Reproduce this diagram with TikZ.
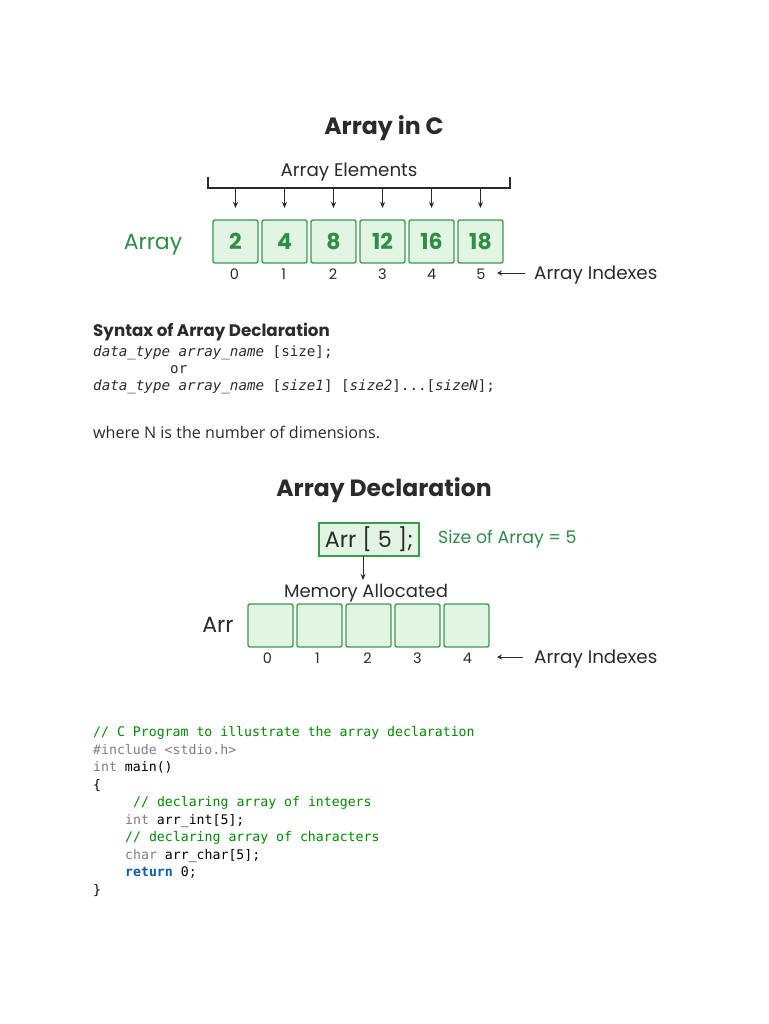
\documentclass[tikz,border=0pt]{standalone}
\usepackage{fontspec}
\setmainfont{Poppins}
\newfontfamily\pop{Poppins}
\newfontfamily\osans{Open Sans}
\newfontfamily\mono{DejaVu Sans Mono}
\usetikzlibrary{arrows.meta}
\definecolor{gtext}{HTML}{2F8D46}
\definecolor{gborder}{HTML}{3C9A4F}
\definecolor{gfill}{HTML}{E2F5E2}
\definecolor{dark}{HTML}{2B2B2B}
\definecolor{cgreen}{HTML}{008A00}
\definecolor{cgray}{HTML}{7F7F7F}
\definecolor{cblue}{HTML}{0B5FA8}
\newcommand{\fs}[1]{\fontsize{#1}{#1}\selectfont}
\tikzset{
  cell/.style={draw=gborder, fill=gfill, line width=1.4pt, rounded corners=2pt,
    minimum width=45pt, minimum height=43pt, inner sep=0pt,
    font=\pop\bfseries\fs{22}, text=gtext},
  idx/.style={font=\pop\fs{14.5}, text=dark, anchor=base, inner sep=0pt},
  darr/.style={-{Stealth[length=6pt,width=5pt]}, line width=1pt, draw=dark},
  larr/.style={-{Stealth[length=5pt,width=5pt]}, line width=1pt, draw=dark},
  codel/.style={anchor=base west, inner sep=0pt, font=\mono\fs{13.2}},
  syn/.style={anchor=base west, inner sep=0pt, font=\mono\fs{14.2}, text=dark},
}
\begin{document}
\begin{tikzpicture}[x=1pt,y=-1pt]
\useasboundingbox (0,0) rectangle (768,1024);
\fill[white] (0,0) rectangle (768,1024);

% ---------- Array in C ----------
\node[anchor=base, inner sep=0pt, font=\pop\bfseries\fs{23.6}, text=dark] (t1) at (384,135) {Array in C};
\node[anchor=base, inner sep=0pt, font=\pop\fs{18.3}, text=dark] (ae) at (349,177) {Array Elements};
\coordinate (bl) at (208,188);
\coordinate (br) at (510,188);
\draw[line width=1.2pt, draw=dark] (208,177) -- (bl) -- (br) -- (510,177);

\foreach \i/\v in {0/2,1/4,2/8,3/12,4/16,5/18}{
  \node[cell] (c\i) at ({235.5+49*\i},241.5) {\v};
  \coordinate (ct\i) at ({235.5+49*\i},188);
  \coordinate (cb\i) at ({235.5+49*\i},208);
  \draw[darr] (ct\i) -- (cb\i);
  \node[idx] (i\i) at ({234.5+49.3*\i},279) {\i};
}
\node[anchor=base, inner sep=0pt, font=\pop\fs{22}, text=gtext] (arrlbl) at (153,249) {Array};
\node[anchor=base west, inner sep=0pt, font=\pop\fs{18.3}, text=dark] (ai1) at (534,279) {Array Indexes};
\coordinate (ai1s) at (525,273);
\coordinate (ai1e) at (497,273);
\draw[larr] (ai1s) -- (ai1e);

% ---------- Syntax ----------
\node[anchor=base west, inner sep=0pt, font=\pop\bfseries\fs{16.7}, text=dark] (syh) at (93,336.7) {Syntax of Array Declaration};
\node[syn] (sy1) at (93,356.7) {\itshape data\_type array\_name \upshape[size];};
\node[syn] (sy2) at (170,373) {or};
\node[syn] (sy3) at (93,390) {\itshape data\_type array\_name \upshape[\itshape size1\upshape] [\itshape size2\upshape]...[\itshape sizeN\upshape];};
\node[anchor=base west, inner sep=0pt, font=\osans\fs{16.1}, text=dark] (wn) at (93,438) {where N is the number of dimensions.};

% ---------- Array Declaration ----------
\node[anchor=base, inner sep=0pt, font=\pop\bfseries\fs{23.5}, text=dark] (t2) at (384,496) {Array Declaration};
\node[draw=gborder, fill=gfill, line width=1.4pt, minimum width=100pt, minimum height=33pt, inner sep=0pt, font=\pop\fs{22.3}, text=dark] (decl) at (369,539.5) {Arr [ 5 ];};
\node[anchor=base west, inner sep=0pt, font=\pop\fs{17.4}, text=gtext] (soa) at (438,543) {Size of Array = 5};
\node[anchor=base, inner sep=0pt, font=\pop\fs{18}, text=dark] (mem) at (366,597) {Memory Allocated};
\coordinate (dd) at (363,556);
\coordinate (de) at (363,580);
\draw[darr] (dd) -- (de);
\foreach \i in {0,...,4}{
  \node[cell] (m\i) at ({270.5+49*\i},625.5) {};
  \node[idx] (j\i) at ({267.5+50*\i},663) {\i};
}
\node[anchor=base, inner sep=0pt, font=\pop\fs{22}, text=dark] (arr2) at (218,632) {Arr};
\node[anchor=base west, inner sep=0pt, font=\pop\fs{18.3}, text=dark] (ai2) at (534,663) {Array Indexes};
\coordinate (ai2s) at (523,657);
\coordinate (ai2e) at (497,657);
\draw[larr] (ai2s) -- (ai2e);

% ---------- Code ----------
\node[codel, text=cgreen] (l1) at (93,736.7) {// C Program to illustrate the array declaration};
\node[codel, text=cgray] (l2) at (93,754.2) {\#include <stdio.h>};
\node[codel, text=black] (l3) at (93,771.7) {\textcolor{cgray}{int} main()};
\node[codel, text=black] (l4) at (93,789.2) {\{};
\node[codel, text=cgreen] (l5) at (133,806.7) {// declaring array of integers};
\node[codel, text=black] (l6) at (125,824.2) {\textcolor{cgray}{int} arr\_int[5];};
\node[codel, text=cgreen] (l7) at (125,841.7) {// declaring array of characters};
\node[codel, text=black] (l8) at (125,859.2) {\textcolor{cgray}{char} arr\_char[5];};
\node[codel, text=black] (l9) at (125,876.7) {\textcolor{cblue}{\bfseries return} 0;};
\node[codel, text=black] (l10) at (93,894.2) {\}};
\end{tikzpicture}
\end{document}
